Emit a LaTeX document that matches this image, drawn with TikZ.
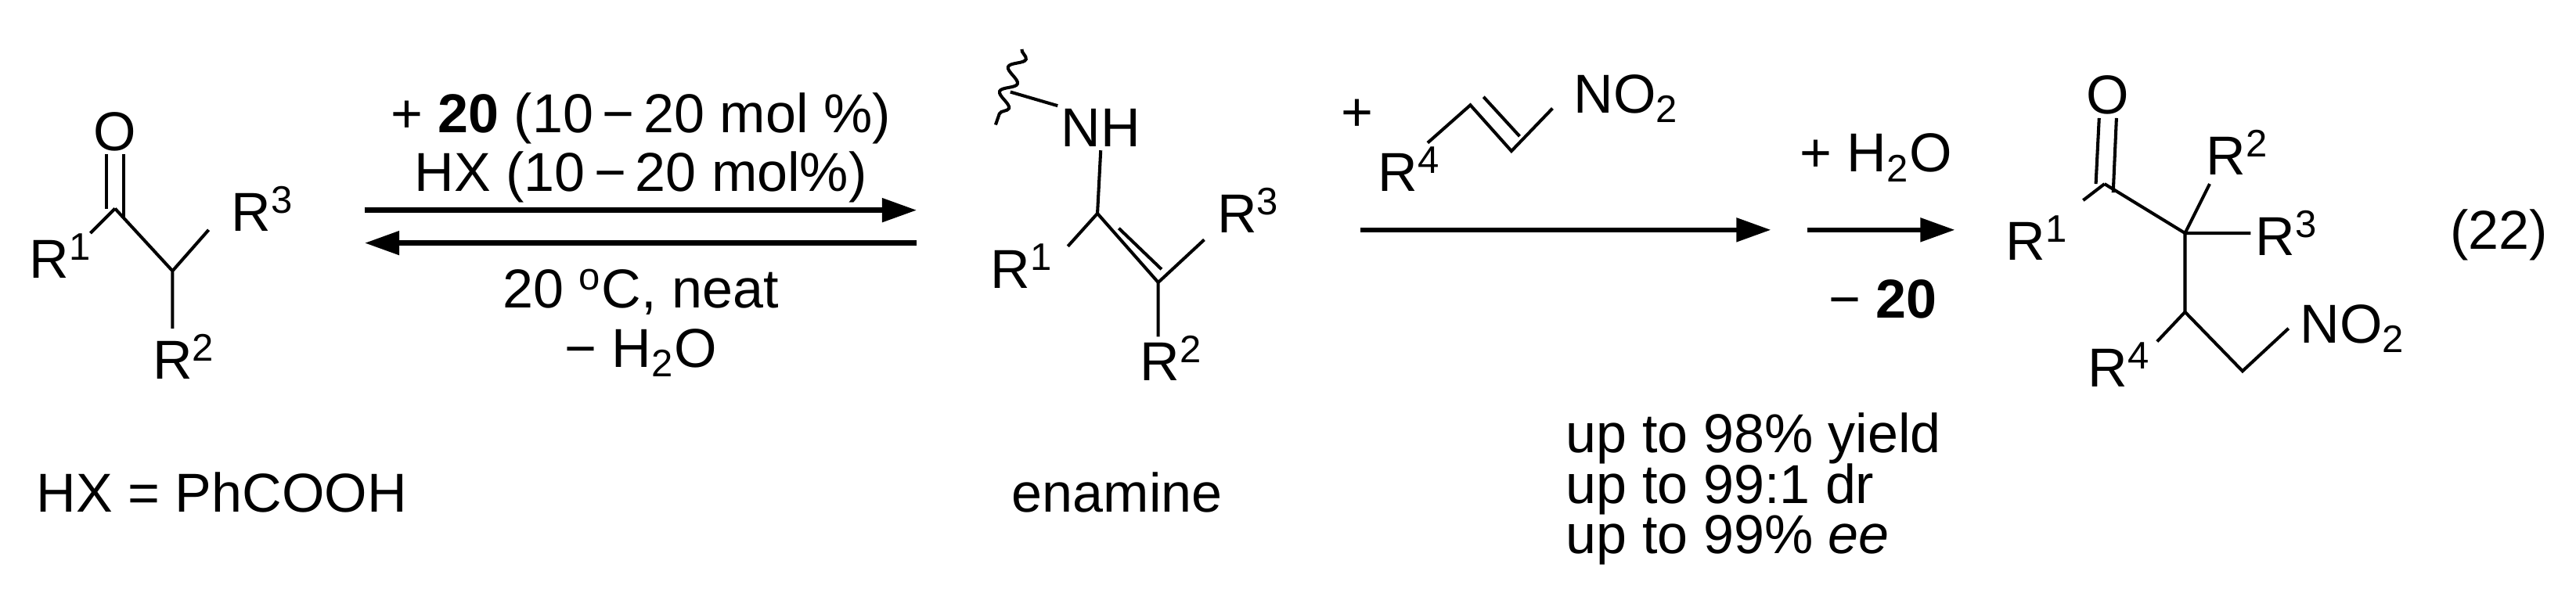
\documentclass[tikz,border=0pt]{standalone}
\usepackage{fontspec}
\setmainfont{Liberation Sans}
\usetikzlibrary{arrows.meta,decorations.pathmorphing}
\begin{document}
\begin{tikzpicture}[x=0.02cm,y=-0.02cm,
  every node/.style={font=\fontsize{19}{22}\selectfont, inner sep=1pt},
  bond/.style={line width=1.1pt},
  rx/.style={line width=1.8pt, -{Triangle[length=12pt,width=8pt]}},
  cond/.style={anchor=west, inner sep=0pt}]
\useasboundingbox (0,0) rectangle (1568,361);
% ---- ketone
\node (O1) at (70,80) {O};
\coordinate (C1) at (70,127);
\coordinate (C2) at (105,165);
\node (R11) at (37,156) {R\textsuperscript{1}};
\node (R31) at (160,127) {R\textsuperscript{3}};
\node (R21) at (112,217) {R\textsuperscript{2}};
\draw[bond] ([xshift=-3]O1.south) -- ([xshift=-3,yshift=0]C1);
\draw[bond] ([xshift=3]O1.south) -- ([xshift=3,yshift=-3]C1);
\draw[bond] (C1) -- (55,142) (C1) -- (C2) -- (127,140) (C2) -- (105,200);
\node (hx) at (135,300) {HX = PhCOOH};
% ---- equilibrium arrows
\coordinate (a1) at (222,128); \coordinate (a2) at (558,128);
\coordinate (b1) at (222,148); \coordinate (b2) at (558,148);
\draw[rx] (a1) -- (a2);
\draw[rx] (b2) -- (b1);
\node (t1) at (390,72) {+ \textbf{20} (10\,\textminus\,20 mol \%)};
\node (t2) at (390,108) {HX (10\,\textminus\,20 mol\%)};
\node (t3) at (390,178) {20 \textsuperscript{o}C, neat};
\node (t4) at (390,215) {\textminus\ H\textsubscript{2}O};
% ---- enamine
\node (NH) at (670,78) {NH};
\coordinate (E1) at (668,130);
\coordinate (E2) at (705,172);
\coordinate (W1) at (622,30); \coordinate (W2) at (606,76);
\draw[bond,decorate,decoration={snake,amplitude=2.5pt,segment length=9pt}] (W1) -- (W2);
\draw[bond] (615,56) -- (NH.north west);
\draw[bond] (NH.south) -- (E1) -- (650,150);
\draw[bond] (E1) -- (E2) -- (733,146) (E2) -- (705,205);
\draw[bond] (681,139) -- (707,164);
\node (R12) at (622,162) {R\textsuperscript{1}};
\node (R32) at (760,128) {R\textsuperscript{3}};
\node (R22) at (713,218) {R\textsuperscript{2}};
\node (en) at (680,300) {enamine};
% ---- nitroalkene
\node (pl) at (826,70) {+};
\node (R4n) at (858,103) {R\textsuperscript{4}};
\coordinate (N1) at (869,87); \coordinate (N2) at (895,64); \coordinate (N3) at (920,92); \coordinate (N4) at (945,66);
\draw[bond] (N1) -- (N2) -- (N3) -- (N4);
\draw[bond] (903,59) -- (925,83);
\node (NO2a) at (990,60) {NO\textsubscript{2}};
% ---- second arrows
\coordinate (c1) at (828,140); \coordinate (c2) at (1078,140);
\draw[rx] (c1) -- (c2);
\coordinate (d1) at (1100,140); \coordinate (d2) at (1190,140);
\draw[rx] (d1) -- (d2);
\node (w1) at (1142,96) {+ H\textsubscript{2}O};
\node (w2) at (1146,182) {\textminus\ \textbf{20}};
\node[cond] (y1) at (953,267) {up to 98\% yield};
\node[cond] (y2) at (953,298) {up to 99:1 dr};
\node[cond] (y3) at (953,329) {up to 99\% \textit{ee}};
% ---- product
\node (O2) at (1283,58) {O};
\coordinate (P1) at (1281,112);
\coordinate (P2) at (1330,142);
\coordinate (P3) at (1330,190);
\coordinate (P4) at (1365,226);
\draw[bond] ([xshift=-3]O2.south) -- ([xshift=-3]P1);
\draw[bond] ([xshift=3]O2.south) -- ([xshift=3,yshift=-3]P1);
\draw[bond] (P1) -- (1268,122) (P1) -- (P2) -- (1345,112) (P2) -- (1370,142) (P2) -- (P3) -- (1313,208) (P3) -- (P4) -- (1393,200);
\node (R13) at (1240,145) {R\textsuperscript{1}};
\node (R23) at (1362,93) {R\textsuperscript{2}};
\node (R33) at (1392,142) {R\textsuperscript{3}};
\node (R43) at (1290,222) {R\textsuperscript{4}};
\node (NO2b) at (1432,200) {NO\textsubscript{2}};
\node (eq) at (1521,143) {(22)};
\end{tikzpicture}
\end{document}
